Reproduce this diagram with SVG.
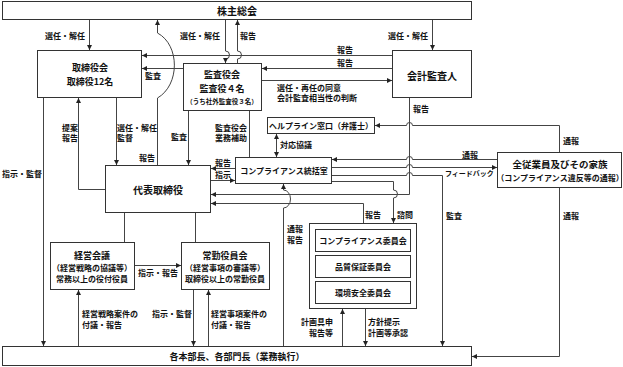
<svg xmlns="http://www.w3.org/2000/svg" width="623" height="367" viewBox="0 0 623 367">
<style>
.b{fill:#fff;stroke:#333;stroke-width:1}
.c{fill:none;stroke:#444;stroke-width:1}
.a{marker-end:url(#ah)}
text{font-family:"Noto Sans CJK JP","Noto Sans",sans-serif;fill:#111;dominant-baseline:central;font-weight:bold}
.t{font-size:10px;text-anchor:middle}
.m{font-size:9px;text-anchor:middle}
.s{font-size:8px;text-anchor:middle}
.l{font-size:8px}
.r{font-size:8px;text-anchor:end}
</style>
<defs>
<marker id="ah" markerUnits="userSpaceOnUse" markerWidth="5" markerHeight="5" refX="5" refY="2.5" orient="auto-start-reverse"><path d="M0,0L5,2.5L0,5z" fill="#222"/></marker>
</defs>
<rect width="623" height="367" fill="#fff"/>

<g id="shareholders"><rect class="b" x="2.5" y="1.5" width="469" height="18"/><text class="t" x="237" y="10">株主総会</text></g>
<g id="divisions"><rect class="b" x="2.5" y="346.5" width="469" height="19"/><text class="m" x="237" y="356">各本部長、各部門長（業務執行）</text></g>
<g id="board"><rect class="b" x="37.5" y="50.5" width="104" height="47"/><text class="m" x="90" y="67">取締役会</text><text class="m" x="90" y="81">取締役12名</text></g>
<g id="auditors"><rect class="b" x="183.5" y="63.5" width="78" height="47"/><text class="m" x="222" y="74">監査役会</text><text class="m" x="222" y="88">監査役４名</text><text class="s" x="222" y="100.5" style="font-size:6.5px">（うち社外監査役３名）</text></g>
<g id="accountant"><rect class="b" x="392.5" y="50.5" width="79" height="47"/><text class="t" x="432" y="75">会計監査人</text></g>
<g id="ceo"><rect class="b" x="105.5" y="165.5" width="105" height="47"/><text class="t" x="158" y="189">代表取締役</text></g>
<g id="compliance-office"><rect class="b" x="235.5" y="157.5" width="96" height="26"/><text class="s" x="284" y="170">コンプライアンス統括室</text></g>
<g id="helpline"><rect class="b" x="267.5" y="117.5" width="107" height="16"/><text class="s" x="321" y="125">ヘルプライン窓口（弁護士）</text></g>
<g id="employees"><rect class="b" x="497.5" y="152.5" width="124" height="35"/><text class="m" x="560" y="164" style="font-size:9.5px">全従業員及びその家族</text><text class="s" x="560" y="177.5">（コンプライアンス違反等の通報）</text></g>
<g id="mgmt-meeting"><rect class="b" x="50.5" y="242.5" width="84" height="47"/><text class="m" x="92" y="255.5">経営会議</text><text class="s" x="92" y="267">（経営戦略の協議等）</text><text class="s" x="92" y="278">常務以上の役付役員</text></g>
<g id="exec-board"><rect class="b" x="181.5" y="242.5" width="88" height="47"/><text class="m" x="225" y="255.5">常勤役員会</text><text class="s" x="225" y="267">（経営事項の審議等）</text><text class="s" x="225" y="278">取締役以上の常勤役員</text></g>
<g id="committees"><rect class="b" x="309.5" y="223.5" width="107" height="85"/>
<rect class="b" x="315.5" y="229.5" width="95" height="22"/><text class="s" x="363" y="240">コンプライアンス委員会</text>
<rect class="b" x="315.5" y="255.5" width="95" height="22"/><text class="s" x="363" y="266">品質保証委員会</text>
<rect class="b" x="315.5" y="281.5" width="95" height="22"/><text class="s" x="363" y="292">環境安全委員会</text></g>

<g id="connectors">
<path class="c a" d="M89.5,20V50"/>
<path class="c a" d="M157.5,165V98C180,85 180,45 157.5,33V20"/>
<path class="c a" d="M225.5,20V51A4,4 0 0 1 225.5,59V63"/>
<path class="c a" d="M237.5,63V59A4,4 0 0 0 237.5,51V20"/>
<path class="c a" d="M432.5,20V50"/>
<path class="c a" d="M392,55.5H142"/>
<path class="c a" d="M392,68.5H262"/>
<path class="c a" d="M183,68.5H142"/>
<path class="c a" d="M262,80.5H392"/>
<path class="c a" d="M43.5,98V346"/>
<path class="c a" d="M105,189.5H78.5V98"/>
<path class="c a" d="M116.5,98V165"/>
<path class="c a" d="M188.5,111V165"/>
<path class="c" d="M249.5,111V157"/>
<path class="c a" d="M276.5,134V157" marker-start="url(#ah)"/>
<path class="c a" d="M235,168.5H211"/>
<path class="c a" d="M211,180.5H235"/>
<path class="c a" d="M409.5,98V194.5H211"/>
<path class="c a" d="M363.5,223V203.5H211"/>
<path class="c a" d="M283.5,346V208A7,9 0 0 0 283.5,190V184"/>
<path class="c a" d="M559.5,152V125.5H412.5A3,3 0 0 0 406.5,125.5H375"/>
<path class="c a" d="M497,159.5H412.5A3,3 0 0 0 406.5,159.5H332"/>
<path class="c a" d="M332,167.5H406.5A3,3 0 0 1 412.5,167.5H497"/>
<path class="c a" d="M332,175.5H406.5A3,3 0 0 1 412.5,175.5H442.5V346"/>
<path class="c a" d="M332,181.5H393.5V190A4,4 0 0 1 393.5,198V223"/>
<path class="c a" d="M559.5,188V356.5H472"/>
<path class="c" d="M124.5,213V242"/>
<path class="c" d="M195.5,213V242"/>
<path class="c a" d="M135,265.5H181"/>
<path class="c a" d="M78.5,346V290"/>
<path class="c a" d="M193.5,290V346"/>
<path class="c a" d="M208.5,346V290"/>
<path class="c a" d="M342.5,346V309"/>
<path class="c a" d="M365.5,309V346"/>
</g>

<g id="labels">
<text class="l" x="45" y="35">選任・解任</text>
<text class="l" x="180" y="35">選任・解任</text>
<text class="l" x="240" y="35">報告</text>
<text class="l" x="388" y="35">選任・解任</text>
<text class="l" x="337" y="49">報告</text>
<text class="l" x="337" y="62">報告</text>
<text class="l" x="145" y="75">監査</text>
<text class="l" x="277" y="87">選任・再任の同意</text>
<text class="l" x="277" y="97">会計監査相当性の判断</text>
<text class="l" x="413" y="108">報告</text>
<text class="l" x="62" y="127">提案</text>
<text class="l" x="62" y="137">報告</text>
<text class="l" x="117" y="127">選任・解任</text>
<text class="l" x="117" y="137">監督</text>
<text class="l" x="171" y="136">監査</text>
<text class="r" x="155" y="157">報告</text>
<text class="l" x="215" y="127">監査役会</text>
<text class="l" x="215" y="137">業務補助</text>
<text class="l" x="280" y="144">対応協議</text>
<text class="l" x="215" y="162">報告</text>
<text class="l" x="215" y="174">指示</text>
<text class="l" x="2" y="173">指示・監督</text>
<text class="l" x="563" y="140">通報</text>
<text class="l" x="462" y="154">通報</text>
<text class="l" x="445" y="173" style="font-size:7px">フィードバック</text>
<text class="l" x="446" y="215">監査</text>
<text class="l" x="563" y="215">通報</text>
<text class="l" x="365" y="214">報告</text>
<text class="l" x="397" y="214">諮問</text>
<text class="l" x="287" y="228">通報</text>
<text class="l" x="287" y="239">報告</text>
<text class="l" x="138" y="272">指示・報告</text>
<text class="l" x="82" y="313">経営戦略案件の</text>
<text class="l" x="82" y="324">付議・報告</text>
<text class="l" x="152" y="313">指示・監督</text>
<text class="l" x="211" y="313">経営事項案件の</text>
<text class="l" x="211" y="324">付議・報告</text>
<text class="r" x="333" y="321">計画具申</text>
<text class="r" x="333" y="332">報告等</text>
<text class="l" x="368" y="321">方針提示</text>
<text class="l" x="368" y="332">計画等承認</text>
</g>
</svg>
